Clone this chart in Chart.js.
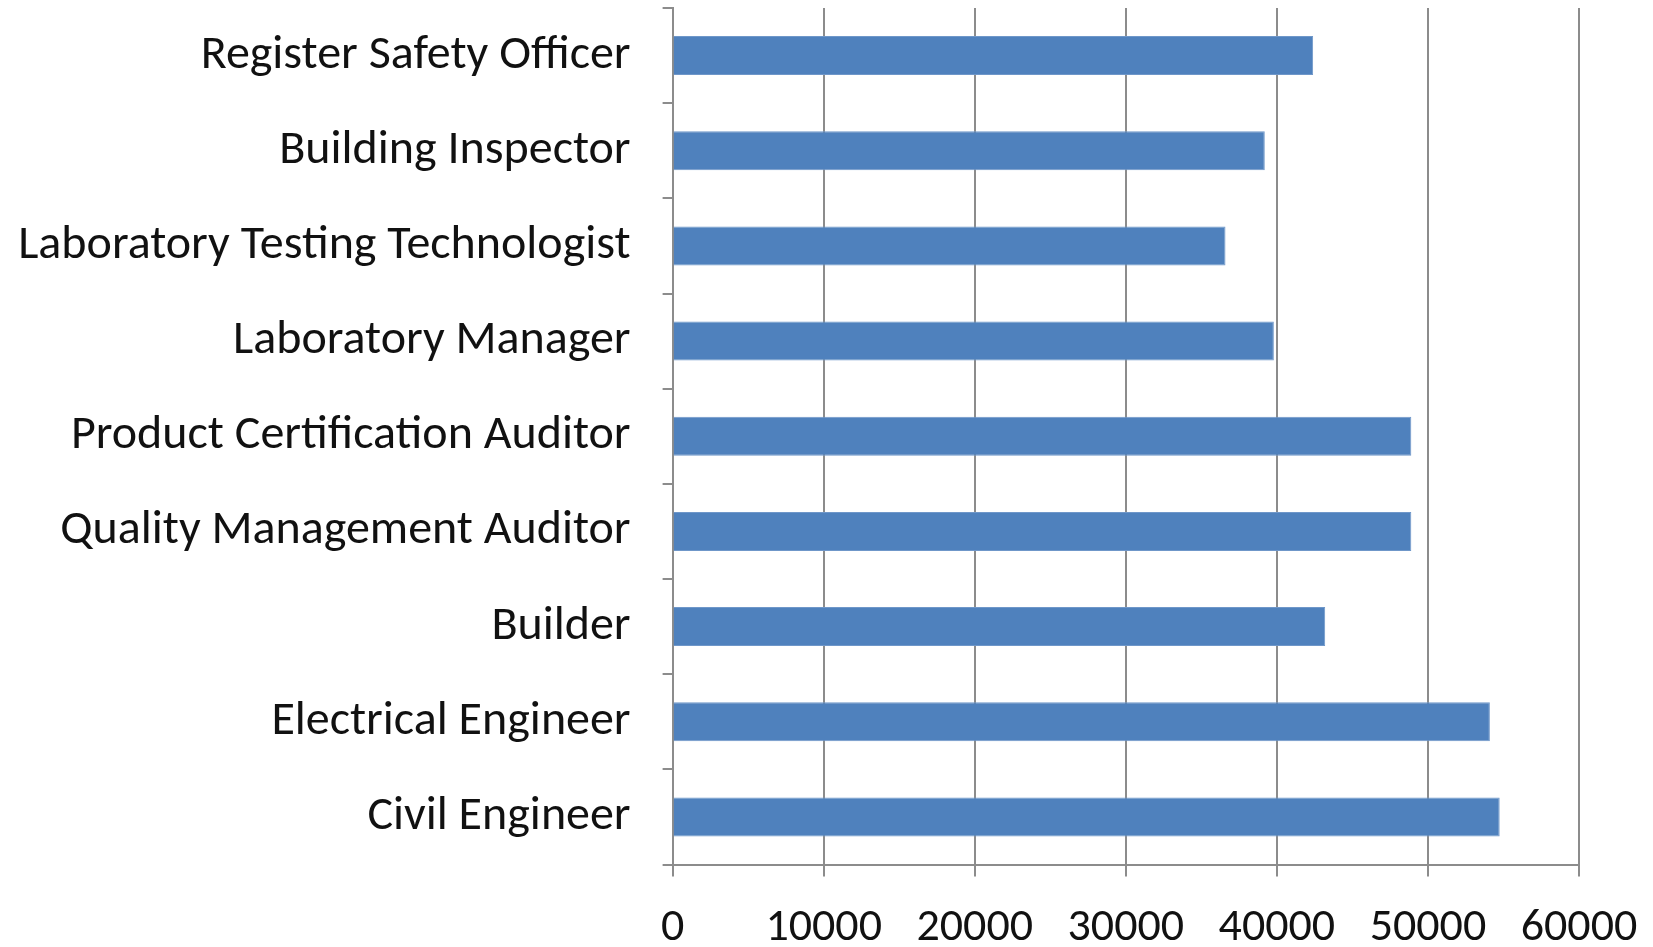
<!DOCTYPE html>
<html>
<head>
<meta charset="utf-8">
<script src="https://cdn.jsdelivr.net/npm/chart.js@4/dist/chart.umd.min.js"></script>
<style>
  html, body { margin: 0; padding: 0; background: #fff; }
  #wrap { width: 1653px; height: 947px; }
</style>
</head>
<body>
<div id="wrap"><canvas id="c" width="1653" height="947"></canvas></div>
<script>
const categories = [
  "Register Safety Officer",
  "Building Inspector",
  "Laboratory Testing Technologist",
  "Laboratory Manager",
  "Product Certification Auditor",
  "Quality Management Auditor",
  "Builder",
  "Electrical Engineer",
  "Civil Engineer"
];
const salaries = [42400, 39200, 36600, 39800, 48900, 48900, 43200, 54100, 54750];
const xTicks = [0, 10000, 20000, 30000, 40000, 50000, 60000];

const FONT = "Carlito, 'Liberation Sans Narrow', 'DejaVu Sans Condensed', sans-serif";

new Chart(document.getElementById('c'), {
  type: 'bar',
  data: {
    labels: categories,
    datasets: [{
      data: salaries,
      backgroundColor: '#4F81BD',
      borderColor: '#6f97c9',
      borderWidth: 1,
      categoryPercentage: 1.0,
      barPercentage: 0.41
    }]
  },
  options: {
    indexAxis: 'y',
    responsive: false,
    animation: false,
    layout: { padding: { top: 8, right: 74, left: 0, bottom: 0 } },
    plugins: { legend: { display: false }, tooltip: { enabled: false } },
    scales: {
      x: {
        min: 0, max: 60000,
        afterBuildTicks: (s) => { s.ticks = xTicks.map(v => ({ value: v })); },
        afterFit: (s) => { s.height = 82.5; s.paddingLeft = 0; s.paddingRight = 0; },
        grid: { color: '#8c8c8c', lineWidth: 2, tickLength: 12, drawTicks: true },
        border: { color: '#8c8c8c', width: 2 },
        ticks: {
          color: '#111', font: { family: FONT, size: 46 }, padding: 24, maxRotation: 0, autoSkip: false,
          callback: (v) => String(v)
        }
      },
      y: {
        afterFit: (s) => { s.width = 672.6; s.paddingTop = 0; s.paddingBottom = 0; },
        grid: { drawOnChartArea: false, drawTicks: true, tickLength: 10, color: '#8c8c8c', lineWidth: 2, offset: true },
        border: { color: '#8c8c8c', width: 2 },
        ticks: { color: '#111', font: { family: FONT, size: 48 }, padding: 32, autoSkip: false }
      }
    }
  }
});
</script>
</body>
</html>
